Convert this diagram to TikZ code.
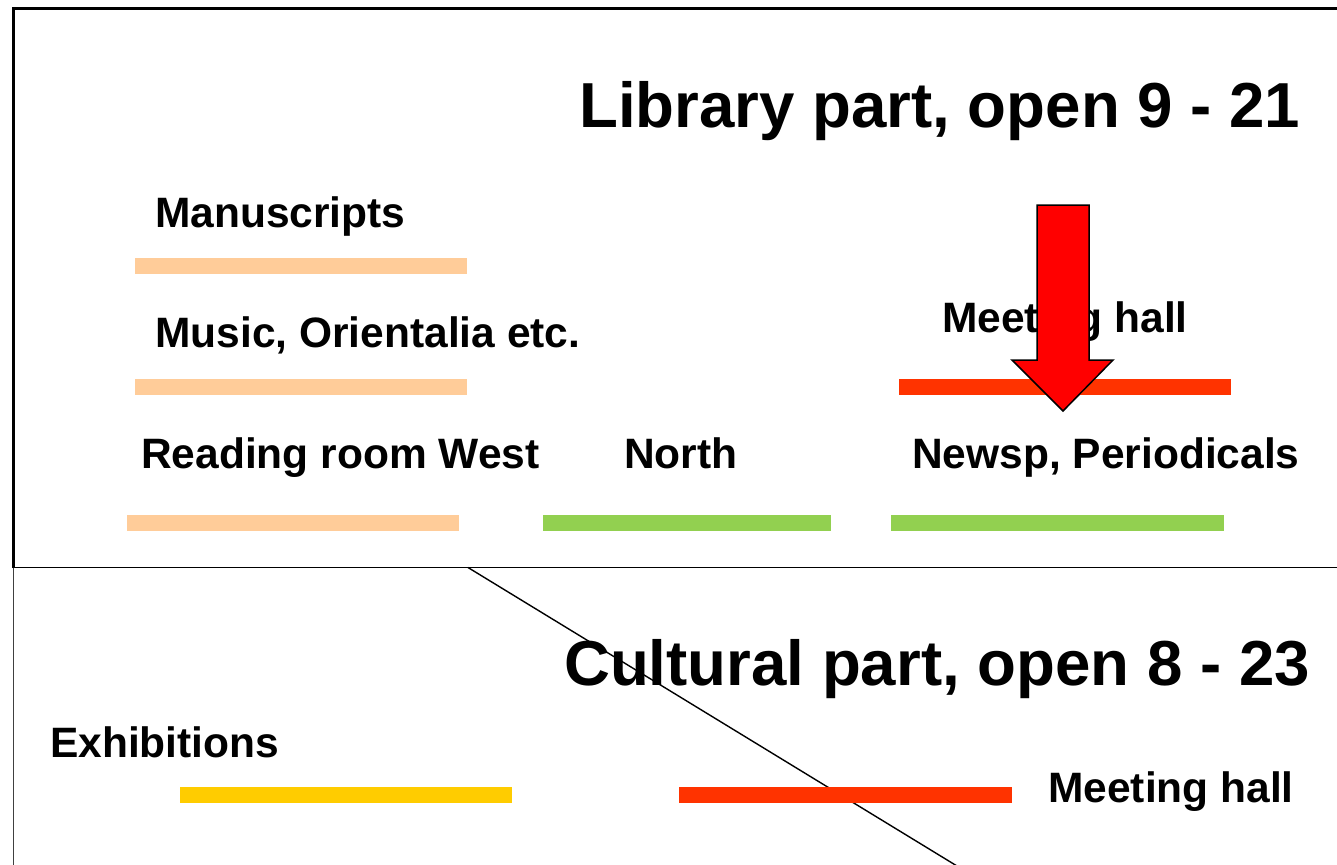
\documentclass[tikz,border=0pt]{standalone}
\usepackage{fontspec}
\setmainfont{Liberation Sans}
\begin{document}
\begin{tikzpicture}[x=1pt,y=-1pt,
  lbl/.style={inner sep=0pt,anchor=base west,font=\bfseries\fontsize{42.5}{42}\selectfont},
  ttl/.style={inner sep=0pt,anchor=base west,font=\bfseries\fontsize{63.6}{63}\selectfont},
  bar/.style={fill=#1,draw=none},
  frame/.style={line width=2.2pt,draw=black}]
\definecolor{peach}{HTML}{FFCC99}
\definecolor{lgreen}{HTML}{92D050}
\definecolor{hallred}{HTML}{FF3300}
\definecolor{gold}{HTML}{FFCC00}
\definecolor{arrred}{HTML}{FF0000}
\useasboundingbox (0,0) rectangle (1337,864);
\fill[white] (0,0) rectangle (1337,864);
% frame
\coordinate (tl) at (13.5,8.5);
\coordinate (tr) at (1340,8.5);
\coordinate (ml) at (13.5,567.5);
\coordinate (mr) at (1340,567.5);
\coordinate (bl) at (13.5,866);
\draw[frame] (tr) -- (tl) -- (ml);
\draw[line width=1.8pt] (ml) -- (mr);
\draw[line width=1.6pt,draw=black!75] (ml) -- (bl);
% diagonal
\coordinate (d1) at (468,567.5);
\coordinate (d2) at (957,866);
\draw[line width=1.4pt] (d1) -- (d2);
% titles
\node[ttl] (lib) at (579,128) {Library part, open 9 - 21};
\node[ttl] (cul) at (564,685) {Cultural part, open 8 - 23};
% labels
\node[lbl] (manu) at (155,227) {Manuscripts};
\node[lbl] (music) at (155,347) {Music, Orientalia etc.};
\node[lbl] (meet1) at (942,332) {Meeting hall};
\node[lbl] (read) at (141,468) {Reading room West};
\node[lbl] (north) at (624,468) {North};
\node[lbl] (newsp) at (912,468) {Newsp, Periodicals};
\node[lbl] (exhib) at (50,757) {Exhibitions};
\node[lbl] (meet2) at (1048,802) {Meeting hall};
% bars
\fill[bar=peach] (135,258) rectangle (467,274);
\fill[bar=peach] (135,379) rectangle (467,395);
\fill[bar=hallred] (899,379) rectangle (1231,395);
\fill[bar=peach] (127,515) rectangle (459,531);
\fill[bar=lgreen] (543,515) rectangle (831,531);
\fill[bar=lgreen] (891,515) rectangle (1224,531);
\fill[bar=gold] (180,787) rectangle (512,803);
\fill[bar=hallred] (679,787) rectangle (1012,803);
% arrow
\filldraw[fill=arrred,draw=black,line width=1.5pt,line join=miter]
  (1037,205) -- (1089,205) -- (1089,360) -- (1113,360) -- (1063,411)
  -- (1012,360) -- (1037,360) -- cycle;
\end{tikzpicture}
\end{document}
